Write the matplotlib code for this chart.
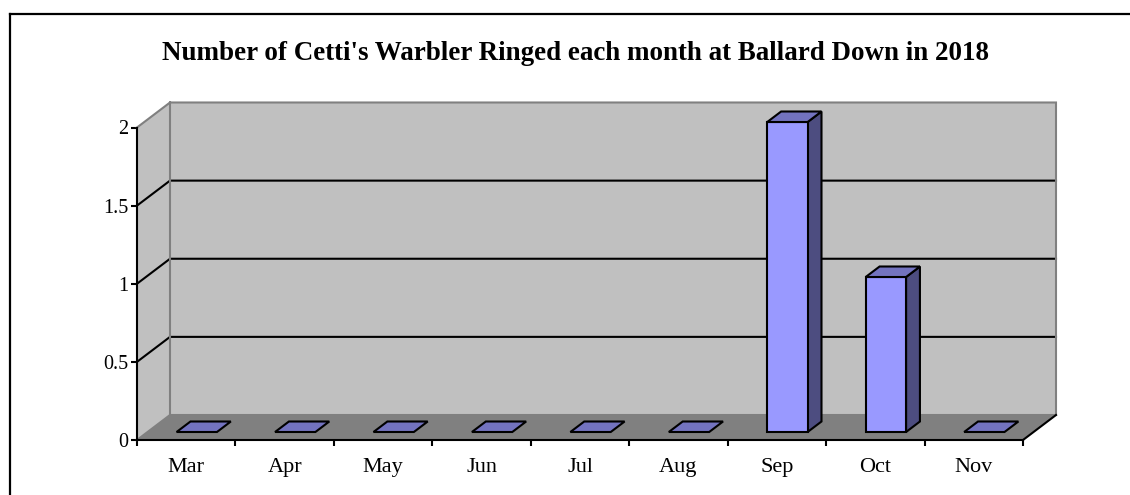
import matplotlib
matplotlib.use("Agg")
import matplotlib.pyplot as plt
from matplotlib.patches import Polygon

months = ['Mar', 'Apr', 'May', 'Jun', 'Jul', 'Aug', 'Sep', 'Oct', 'Nov']
ringed = [0, 0, 0, 0, 0, 0, 2, 1, 0]
y_ticks = [0, 0.5, 1, 1.5, 2]
y_tick_labels = ['0', '0.5', '1', '1.5', '2']

W, H = 1130, 495

# depth of the fake 3d box, in data units
DX = 33 / 98.44
DY = 25 / 156.25
BAR_WIDTH = 0.41
BAR_T0 = 0.32   # where the bar starts inside the depth
BAR_T1 = 0.74
BAR_SCALE = 0.992  # bars come out a touch shorter than the wall scale


def poly(ax, pts, color, edge='black', lw=1.5, z=2):
    ax.add_patch(Polygon(pts, closed=True, facecolor=color, edgecolor=edge,
                         linewidth=lw, clip_on=False, zorder=z, joinstyle='miter'))


plt.rcParams['font.family'] = ['Liberation Serif', 'DejaVu Serif']
fig = plt.figure(figsize=(W / 100, H / 100), dpi=100, facecolor='white')

# outer chart frame, open on the right and running off the bottom
fig.add_artist(plt.Line2D([9.5 / W, 9.5 / W], [0, 1 - 13.5 / H], color='black', lw=1.6))
fig.add_artist(plt.Line2D([9.5 / W, 1], [1 - 13.5 / H, 1 - 13.5 / H], color='black', lw=1.6))

ax = fig.add_axes([137 / W, 1 - 440 / H, 886 / W, 312.5 / H])
ax.set_xlim(0, len(months))
ax.set_ylim(0, 2)
ax.patch.set_visible(False)

n = len(months)
top = max(y_ticks)

# walls and floor
poly(ax, [(DX, DY), (n + DX, DY), (n + DX, top + DY), (DX, top + DY)], '#C0C0C0', 'none', 0, 1)
poly(ax, [(0, 0), (DX, DY), (DX, top + DY), (0, top)], '#C0C0C0', 'none', 0, 1)
poly(ax, [(0, 0), (n, 0), (n + DX, DY), (DX, DY)], '#808080', 'none', 0, 1)

# gridlines on side wall and back wall
for v in y_ticks[1:-1]:
    ax.plot([0, DX, n + DX], [v, v + DY, v + DY], color='black', lw=1.5, zorder=1.5,
            clip_on=False, solid_joinstyle='miter')

# wall edges go over the gridlines
ax.plot([0, DX, n + DX, n + DX, DX, DX], [top, top + DY, top + DY, DY, DY, top + DY],
        color='#808080', lw=1.5, zorder=1.6, clip_on=False, solid_joinstyle='miter')
ax.plot([0, DX], [0, DY], color='#808080', lw=1.5, zorder=1.6, clip_on=False)

# bars
for i, v in enumerate(ringed):
    h = v * BAR_SCALE
    x0 = i + 0.5 - BAR_WIDTH / 2 + BAR_T0 * DX
    x1 = x0 + BAR_WIDTH
    y0 = BAR_T0 * DY
    ddx = (BAR_T1 - BAR_T0) * DX
    ddy = (BAR_T1 - BAR_T0) * DY
    if v > 0:
        poly(ax, [(x1, y0), (x1 + ddx, y0 + ddy), (x1 + ddx, y0 + ddy + h), (x1, y0 + h)], '#4D4D80', z=3)
        poly(ax, [(x0, y0), (x1, y0), (x1, y0 + h), (x0, y0 + h)], '#9999FF', z=3)
    poly(ax, [(x0, y0 + h), (x1, y0 + h), (x1 + ddx, y0 + h + ddy), (x0 + ddx, y0 + h + ddy)], '#7373BF', z=3)

# axes lines and ticks
for s in ['top', 'right']:
    ax.spines[s].set_visible(False)
for s in ['left', 'bottom']:
    ax.spines[s].set_linewidth(1.5)
    ax.spines[s].set_zorder(4)
ax.plot([n, n + DX], [0, DY], color='black', lw=1.5, zorder=4, clip_on=False)

ax.set_yticks(y_ticks)
ax.set_yticklabels(y_tick_labels, fontsize=14.5)
ax.set_xticks(range(n + 1))
ax.set_xticklabels([])
ax.set_xticks([i + 0.5 for i in range(n)], minor=True)
ax.set_xticklabels(months, minor=True, fontsize=16)
ax.tick_params(axis='x', which='major', length=4, width=1.5, direction='out')
ax.tick_params(axis='x', which='minor', length=0, pad=13)
ax.tick_params(axis='y', length=4, width=1.5, pad=2)

fig.text(575 / W, 1 - 54 / H, "Number of Cetti's Warbler Ringed each month at Ballard Down in 2018",
         ha='center', va='center', fontsize=19.45, fontweight='bold')

fig.savefig('out.png', dpi=100)
